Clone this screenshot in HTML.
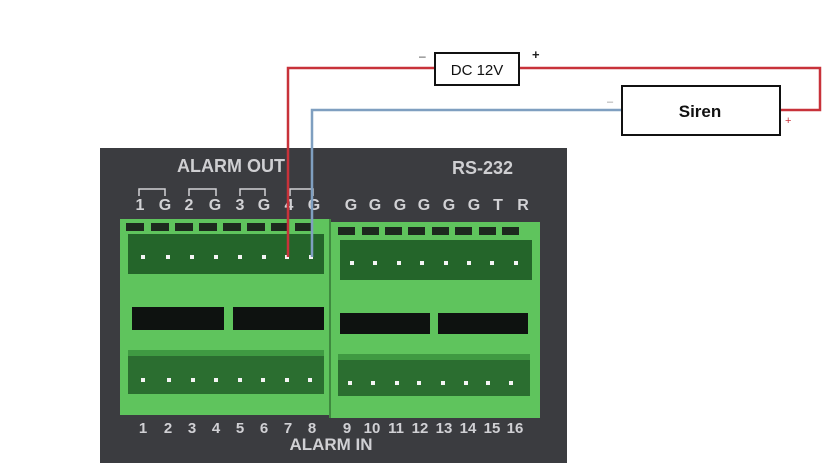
<!DOCTYPE html>
<html><head><style>
html,body{margin:0;padding:0;background:#fff;width:830px;height:472px;overflow:hidden}
svg{display:block}
text{font-family:"Liberation Sans",Arial,sans-serif}
</style></head><body>
<svg width="830" height="472" viewBox="0 0 830 472" xmlns="http://www.w3.org/2000/svg">
<rect x="100" y="148" width="467" height="315" fill="#3b3c40"/>
<rect x="120" y="219" width="209" height="196" fill="#5fc45d"/>
<rect x="331" y="222" width="209" height="196" fill="#5fc45d"/>
<line x1="330" y1="219" x2="330" y2="418" stroke="#3f8a3f" stroke-width="2"/>
<rect x="128" y="234" width="196" height="40" fill="#24652a"/>
<rect x="340" y="240" width="192" height="40" fill="#24652a"/>
<g fill="#1d2a1e">
<rect x="126" y="223" width="18" height="8"/><rect x="151" y="223" width="18" height="8"/><rect x="175" y="223" width="18" height="8"/><rect x="199" y="223" width="18" height="8"/><rect x="223" y="223" width="18" height="8"/><rect x="247" y="223" width="18" height="8"/><rect x="271" y="223" width="18" height="8"/><rect x="295" y="223" width="18" height="8"/>
<rect x="338" y="227" width="17" height="8"/><rect x="362" y="227" width="17" height="8"/><rect x="385" y="227" width="17" height="8"/><rect x="408" y="227" width="17" height="8"/><rect x="432" y="227" width="17" height="8"/><rect x="455" y="227" width="17" height="8"/><rect x="479" y="227" width="17" height="8"/><rect x="502" y="227" width="17" height="8"/>
</g>
<rect x="132" y="307" width="92" height="23" fill="#0e1210"/>
<rect x="233" y="307" width="91" height="23" fill="#0e1210"/>
<rect x="340" y="313" width="90" height="21" fill="#0e1210"/>
<rect x="438" y="313" width="90" height="21" fill="#0e1210"/>
<rect x="128" y="356" width="196" height="38" fill="#2b6e30"/>
<rect x="338" y="360" width="192" height="36" fill="#2b6e30"/>
<g fill="#3f9a42">
<rect x="128" y="350" width="196" height="6"/><rect x="338" y="354" width="192" height="6"/>
</g>
<g fill="#f4f4f4">
<rect x="141" y="255" width="4" height="4"/><rect x="166" y="255" width="4" height="4"/><rect x="190" y="255" width="4" height="4"/><rect x="214" y="255" width="4" height="4"/><rect x="238" y="255" width="4" height="4"/><rect x="262" y="255" width="4" height="4"/><rect x="285" y="255" width="4" height="4"/><rect x="309" y="255" width="4" height="4"/>
<rect x="350" y="261" width="4" height="4"/><rect x="373" y="261" width="4" height="4"/><rect x="397" y="261" width="4" height="4"/><rect x="420" y="261" width="4" height="4"/><rect x="444" y="261" width="4" height="4"/><rect x="467" y="261" width="4" height="4"/><rect x="490" y="261" width="4" height="4"/><rect x="514" y="261" width="4" height="4"/>
<rect x="141" y="378" width="4" height="4"/><rect x="167" y="378" width="4" height="4"/><rect x="191" y="378" width="4" height="4"/><rect x="214" y="378" width="4" height="4"/><rect x="238" y="378" width="4" height="4"/><rect x="261" y="378" width="4" height="4"/><rect x="285" y="378" width="4" height="4"/><rect x="308" y="378" width="4" height="4"/>
<rect x="348" y="381" width="4" height="4"/><rect x="371" y="381" width="4" height="4"/><rect x="395" y="381" width="4" height="4"/><rect x="417" y="381" width="4" height="4"/><rect x="441" y="381" width="4" height="4"/><rect x="464" y="381" width="4" height="4"/><rect x="486" y="381" width="4" height="4"/><rect x="509" y="381" width="4" height="4"/>
</g>
<g fill="#cfcfd2" font-size="18" font-weight="bold">
<text x="177" y="172">ALARM OUT</text>
<text x="452" y="174">RS-232</text>
</g>
<g fill="#d2d2d5" font-size="16" font-weight="bold" text-anchor="middle">
<text x="140" y="210">1</text><text x="165" y="210">G</text><text x="189" y="210">2</text><text x="215" y="210">G</text><text x="240" y="210">3</text><text x="264" y="210">G</text><text x="289" y="210">4</text><text x="314" y="210">G</text>
<text x="351" y="210">G</text><text x="375" y="210">G</text><text x="400" y="210">G</text><text x="424" y="210">G</text><text x="449" y="210">G</text><text x="474" y="210">G</text><text x="498" y="210">T</text><text x="523" y="210">R</text>
</g>
<g fill="none" stroke="#d2d2d5" stroke-width="1.5">
<path d="M139 196 V189 H165 V196"/><path d="M189 196 V189 H216 V196"/><path d="M240 196 V189 H265 V196"/><path d="M290 196 V189 H313 V196"/>
</g>
<g fill="#d0d0d4" font-size="15" font-weight="bold" text-anchor="middle">
<text x="143" y="433">1</text><text x="168" y="433">2</text><text x="192" y="433">3</text><text x="216" y="433">4</text><text x="240" y="433">5</text><text x="264" y="433">6</text><text x="288" y="433">7</text><text x="312" y="433">8</text>
<text x="347" y="433">9</text><text x="372" y="433">10</text><text x="396" y="433">11</text><text x="420" y="433">12</text><text x="444" y="433">13</text><text x="468" y="433">14</text><text x="492" y="433">15</text><text x="515" y="433">16</text>
<text x="331" y="450" font-size="17">ALARM IN</text>
</g>
<path d="M288 257 V68 H435 M519 68 H820 V110 H780" fill="none" stroke="#c8323a" stroke-width="2.5"/>
<path d="M312 257 V110 H622" fill="none" stroke="#7f9fc0" stroke-width="2.5"/>
<rect x="435" y="53" width="84" height="32" fill="#fff" stroke="#111" stroke-width="2"/>
<text x="477" y="75" font-size="15" text-anchor="middle" fill="#111">DC 12V</text>
<rect x="622" y="86" width="158" height="49" fill="#fff" stroke="#111" stroke-width="2"/>
<text x="700" y="117" font-size="17" font-weight="bold" text-anchor="middle" fill="#111">Siren</text>
<text x="419" y="60" font-size="12" fill="#444">–</text>
<text x="532" y="59" font-size="13" font-weight="bold" fill="#222">+</text>
<text x="607" y="105" font-size="11" fill="#999">–</text>
<text x="785" y="124" font-size="11" fill="#c8323a">+</text>
</svg>
</body></html>
